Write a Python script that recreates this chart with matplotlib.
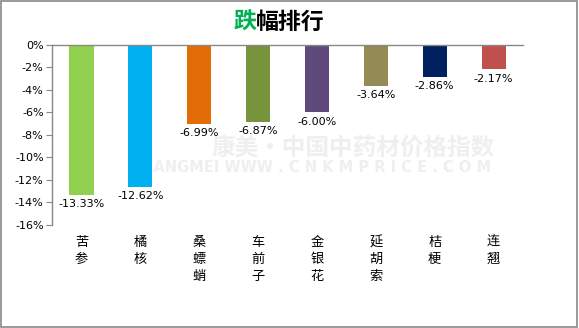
import matplotlib.pyplot as plt
from matplotlib.patches import Rectangle

plt.rcParams['font.family'] = ['Noto Sans CJK SC', 'DejaVu Sans']

herbs = ['苦参', '橘核', '桑螵蛸', '车前子', '金银花', '延胡索', '桔梗', '连翘']
drops = [-13.33, -12.62, -6.99, -6.87, -6.00, -3.64, -2.86, -2.17]
colors = ['#92D050', '#00B0F0', '#E36C09', '#77933C', '#604A7B', '#948A54', '#002060', '#C0504D']
yticks = [0, -2, -4, -6, -8, -10, -12, -14, -16]

fig = plt.figure(figsize=(5.79, 3.28), dpi=100)
ax = fig.add_axes([0.0898, 0.314, 0.8135, 0.549])

# faint watermark, kept under the bars
ax.text(0.61, 0.549, '康美·中国中药材价格指数', fontsize=17, fontweight='bold',
        color='#EFEFEF', ha='center', va='center', zorder=1,
        transform=fig.transFigure, clip_on=False)
ax.text(0.546, 0.488, 'KANGMEI WWW . C N K M P R I C E . C O M', fontsize=10.5,
        fontweight='bold', color='#EFEFEF', ha='center', va='center', zorder=1,
        family='DejaVu Sans', transform=fig.transFigure, clip_on=False)

x = range(len(herbs))
bars = ax.bar(x, drops, width=0.41, color=colors, zorder=2)
for xi, v in zip(x, drops):
    ax.annotate('%.2f%%' % v, (xi, v), xytext=(0, -3), textcoords='offset points',
                ha='center', va='top', fontsize=8, family='DejaVu Sans', zorder=3)

ax.set_xlim(-0.5, len(herbs) - 0.5)
ax.set_ylim(-16, 0)
ax.set_yticks(yticks)
ax.set_yticklabels(['%d%%' % t for t in yticks], fontsize=8, family='DejaVu Sans')
ax.set_xticks(list(x))
ax.set_xticklabels(['\n'.join(h) for h in herbs], fontsize=9.5, va='top', linespacing=1.4)
ax.tick_params(axis='x', length=0, pad=8)
ax.tick_params(axis='y', length=4, color='#888888', direction='out', pad=2)

for s in ['right', 'bottom']:
    ax.spines[s].set_visible(False)
for s in ['top', 'left']:
    ax.spines[s].set_color('#888888')
    ax.spines[s].set_linewidth(1)
ax.patch.set_alpha(0)

fig.text(0.442, 0.933, '跌', color='#00B050', fontsize=16.5, fontweight='bold',
         ha='right', va='center')
fig.text(0.442, 0.933, '幅排行', color='black', fontsize=16.5, fontweight='bold',
         ha='left', va='center')

fig.patches.append(Rectangle((0.002, 0.003), 0.995, 0.994, transform=fig.transFigure,
                             fill=False, edgecolor='#888888', linewidth=1.2))

fig.savefig('out.png', dpi=100)
